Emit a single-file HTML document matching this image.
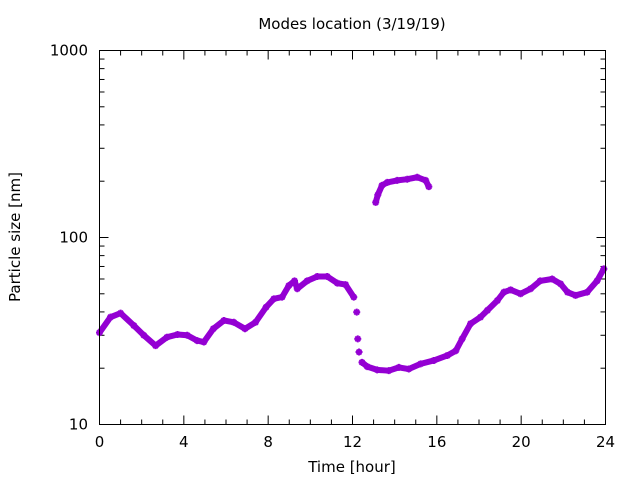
<!DOCTYPE html>
<html><head><meta charset="utf-8"><style>
html,body{margin:0;padding:0;background:#fff;}
svg{display:block;font-family:"DejaVu Sans","Liberation Sans",sans-serif;}
</style></head><body>
<svg id="chart" width="640" height="480" viewBox="0 0 640 480" xmlns="http://www.w3.org/2000/svg">
<text x="352" y="29" font-size="15" text-anchor="middle">Modes location (3/19/19)</text>
<text x="352" y="472" font-size="15" text-anchor="middle">Time [hour]</text>
<text x="0" y="0" font-size="15" text-anchor="middle" transform="translate(20,237) rotate(-90)">Particle size [nm]</text>
<g id="axes"></g>
<g id="marks"></g>
<rect x="99.5" y="50.5" width="506" height="374" fill="none" stroke="#000" stroke-width="1"/>
</svg>
<script>
const xTicks = [0,4,8,12,16,20,24];
const yTicks = [10,100,1000];
// lower mode: hours and sizes (nm)
const lowHours = [0,0.52,1.0,1.63,2.1,2.66,3.2,3.7,4.16,4.63,4.95,5.4,5.9,6.37,6.9,7.4,7.9,8.27,8.66,8.98,9.25,9.38,9.85,10.33,10.8,11.28,11.67,12.06];
const lowSizes = [31,37.5,39.4,33.8,30,26.4,29.3,30.3,30,28.1,27.6,32.5,36,35.2,32.5,35.2,42.4,47,48,55.3,58.6,53.2,58.6,61.9,61.9,57,56,48];
const dropHours = [12.2,12.25,12.31];
const dropSizes = [39.9,28.7,24.4];
const low2Hours = [12.45,12.7,13.17,13.72,14.2,14.67,15.23,15.86,16.5,16.9,17.2,17.6,18.07,18.4,18.87,19.18,19.5,19.97,20.45,20.9,21.47,21.87,22.2,22.58,23.13,23.6,23.92];
const low2Sizes = [21.5,20.4,19.6,19.4,20.2,19.8,21.1,22,23.4,24.8,28.7,34.6,37.5,40.8,46,51,52.5,50,53.2,58.6,60,56.5,51,49,51,58.6,68];
// upper mode
const upHours = [13.1,13.2,13.4,13.65,14.12,14.6,15.07,15.47,15.62];
const upSizes = [154,169,190,197,202,205,210,202,187];

const L=99.5,R=605.5,T=50.5,B=424.5;
function xs(h){return L+(h/24)*(R-L);}
function ys(v){return B-(Math.log10(v)-1)/2*(B-T);}
const NS="http://www.w3.org/2000/svg";
const axes=document.getElementById('axes'), marks=document.getElementById('marks');
function mk(tag,attrs,parent){const e=document.createElementNS(NS,tag);for(const k in attrs)e.setAttribute(k,attrs[k]);parent.appendChild(e);return e;}
// x ticks
for(let h=0;h<=24;h++){
  const major=h%4===0, len=major?9:5, x=xs(h);
  const t=mk('line',{x1:x,x2:x,y1:B,y2:B-len,stroke:'#000'},axes);
  
  
  const t2=mk('line',{x1:x,x2:x,y1:T,y2:T+len,stroke:'#000'},axes);
  
  
}
xTicks.forEach(h=>{
  const tx=mk('text',{x:xs(h),y:447,'font-size':15,'text-anchor':'middle'},axes);
  tx.textContent=h;
  
  
});
// y ticks
for(let d=10;d<1000;d*=10){
  for(let m=1;m<=9;m++){
    const v=d*m, major=m===1, len=major?9:5, y=ys(v);
    const t=mk('line',{x1:L,x2:L+len,y1:y,y2:y,stroke:'#000'},axes);
    
    
    const t2=mk('line',{x1:R,x2:R-len,y1:y,y2:y,stroke:'#000'},axes);
    
    
  }
}
yTicks.forEach(v=>{
  const tx=mk('text',{x:88,y:ys(v)+5,'font-size':15,'text-anchor':'end'},axes);
  tx.textContent=v;
  
  
});
const col='#9400d3';
function line(hs,vs,name){
  const p=mk('polyline',{points:hs.map((h,i)=>xs(h)+','+ys(vs[i])).join(' '),fill:'none',stroke:col,'stroke-width':6,'stroke-linejoin':'round','stroke-linecap':'round'},marks);
  
  
}
function pts(hs,vs,name){
  hs.forEach((h,i)=>{
    const x=xs(h),y=ys(vs[i]),s=3.5;
    const g=mk('path',{d:`M${x-s},${y}H${x+s}M${x},${y-s}V${y+s}M${x-s*.7},${y-s*.7}L${x+s*.7},${y+s*.7}M${x-s*.7},${y+s*.7}L${x+s*.7},${y-s*.7}`,stroke:col,'stroke-width':2},marks);
    
    
  });
}
line(lowHours,lowSizes,'lower-mode-line-a');
line(low2Hours,low2Sizes,'lower-mode-line-b');
line(upHours,upSizes,'upper-mode-line');
pts(lowHours,lowSizes,'lower-mode-point');
pts(dropHours,dropSizes,'drop-point');
pts(low2Hours,low2Sizes,'lower-mode-point');
pts(upHours,upSizes,'upper-mode-point');
</script>
</body></html>
